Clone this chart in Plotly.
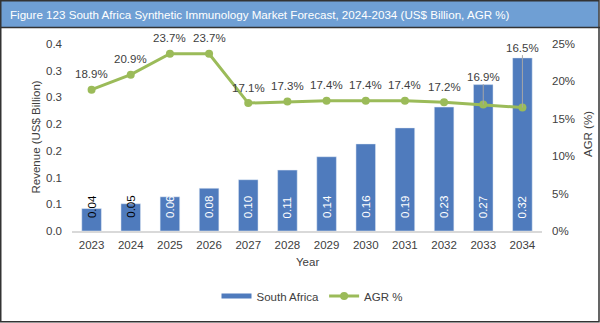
import plotly.graph_objects as go

years = ["2023", "2024", "2025", "2026", "2027", "2028", "2029", "2030", "2031", "2032", "2033", "2034"]
revenue = [0.042, 0.051, 0.064, 0.080, 0.096, 0.114, 0.139, 0.163, 0.193, 0.232, 0.274, 0.324]
agr = [18.9, 20.9, 23.7, 23.7, 17.1, 17.3, 17.4, 17.4, 17.4, 17.2, 16.9, 16.5]
left_tickvals = [0, 0.05, 0.10, 0.15, 0.20, 0.25, 0.30, 0.35]
left_ticktext = ["0.0", "0.1", "0.1", "0.2", "0.2", "0.3", "0.3", "0.4"]
right_tickvals = [0, 5, 10, 15, 20, 25]
right_ticktext = ["0%", "5%", "10%", "15%", "20%", "25%"]

title = "Figure 123 South Africa Synthetic Immunology Market Forecast, 2024-2034 (US$ Billion, AGR %)"

W, H = 600, 323
L, R, T, B = 72, 542, 44, 231
FONT = "Liberation Sans, Arial, sans-serif"
TXT = "#404040"
BAR = "#4f7bbd"
GREEN = "#9bbb59"


def px(x):
    return (x - L) / (R - L)


def py(y):
    return (B - y) / (B - T)


fig = go.Figure()
fig.add_trace(go.Bar(x=years, y=revenue, marker_color=BAR, name="South Africa",
                     showlegend=False, yaxis="y", xaxis="x"))
fig.add_trace(go.Scatter(x=years, y=[None] * len(years), mode="lines", name="South Africa",
                         line=dict(color=BAR, width=5), yaxis="y", xaxis="x"))
fig.add_trace(go.Scatter(x=years, y=agr, mode="lines+markers", name="AGR %",
                         line=dict(color=GREEN, width=3),
                         marker=dict(color=GREEN, size=8), yaxis="y2", xaxis="x"))

annotations = []
# bar value labels (inside base, rotated)
for i, v in enumerate(revenue):
    annotations.append(dict(x=i, y=0, xref="x", yref="y", text=f"{v:.2f}",
                            textangle=-90, showarrow=False, yanchor="bottom",
                            xanchor="center", yshift=11,
                            font=dict(family=FONT, size=11.5,
                                      color="#000000" if v < 0.055 else "#ffffff")))
# AGR labels
for i, a in enumerate(agr):
    if i >= len(years) - 2:
        ay = -28 if i == len(years) - 2 else -60
        annotations.append(dict(x=i, y=a, xref="x", yref="y2", text=f"{a:.1f}%",
                                showarrow=True, arrowhead=0, arrowwidth=1,
                                arrowcolor="#a6a6a6", ax=0, ay=ay, standoff=0,
                                font=dict(family=FONT, size=11.5, color=TXT)))
    else:
        annotations.append(dict(x=i, y=a, xref="x", yref="y2", text=f"{a:.1f}%",
                                showarrow=False, yshift=15.5,
                                font=dict(family=FONT, size=11.5, color=TXT)))
# title
annotations.append(dict(x=px(8), y=py(14), xref="paper", yref="paper", text=title,
                        showarrow=False, xanchor="left", yanchor="middle",
                        font=dict(family=FONT, size=11.6, color="#ffffff")))
# axis titles
annotations.append(dict(x=px(35), y=py(137.5), xref="paper", yref="paper",
                        text="Revenue (US$ Billion)", textangle=-90, showarrow=False,
                        xanchor="center", yanchor="middle",
                        font=dict(family=FONT, size=11.5, color=TXT)))
annotations.append(dict(x=px(588), y=py(134), xref="paper", yref="paper",
                        text="AGR (%)", textangle=-90, showarrow=False,
                        xanchor="center", yanchor="middle",
                        font=dict(family=FONT, size=11.5, color=TXT)))
annotations.append(dict(x=px(307), y=py(262), xref="paper", yref="paper",
                        text="Year", showarrow=False, xanchor="center", yanchor="middle",
                        font=dict(family=FONT, size=11.5, color=TXT)))

shapes = [
    dict(type="rect", xref="paper", yref="paper", x0=px(1), x1=px(598.5), y0=py(1), y1=py(27.5),
         fillcolor="#6f9fd4", line=dict(width=0), layer="below"),
    dict(type="line", xref="paper", yref="paper", x0=px(0), x1=px(600), y0=py(27.5), y1=py(27.5),
         line=dict(color="#333333", width=1.5)),
    dict(type="rect", xref="paper", yref="paper", x0=px(0.75), x1=px(599), y0=py(0.75), y1=py(321.8),
         line=dict(color="#333333", width=1.5)),
]

fig.update_layout(
    width=W, height=H,
    margin=dict(l=L, r=W - R, t=T, b=H - B, autoexpand=False),
    paper_bgcolor="#ffffff", plot_bgcolor="#ffffff",
    bargap=0.5,
    font=dict(family=FONT, size=11.5, color=TXT),
    showlegend=True,
    legend=dict(orientation="h", x=px(312), y=py(296), xanchor="center", yanchor="middle",
                font=dict(family=FONT, size=11.5, color=TXT),
                bgcolor="rgba(0,0,0,0)"),
    xaxis=dict(type="category", categoryorder="array", categoryarray=years,
               range=[-0.5, len(years) - 0.5], autorange=False,
               showgrid=False, zeroline=False, showline=True, ticklabelstandoff=2,
               linecolor="#d9d9d9", linewidth=1.5, ticks="", tickfont=dict(size=11.5, color=TXT)),
    yaxis=dict(range=[0, 0.35], autorange=False, tickmode="array", tickvals=left_tickvals,
               ticktext=left_ticktext, ticklabelstandoff=9,
               showgrid=False, zeroline=False, showline=False, ticks="",
               tickfont=dict(size=11.5, color=TXT)),
    yaxis2=dict(range=[0, 25], autorange=False, tickmode="array", tickvals=right_tickvals,
                ticktext=right_ticktext, ticklabelstandoff=9,
                overlaying="y", side="right", showgrid=False, zeroline=False, showline=False,
                ticks="", tickfont=dict(size=11.5, color=TXT)),
    annotations=annotations,
    shapes=shapes,
)

fig.write_html("out.html")
